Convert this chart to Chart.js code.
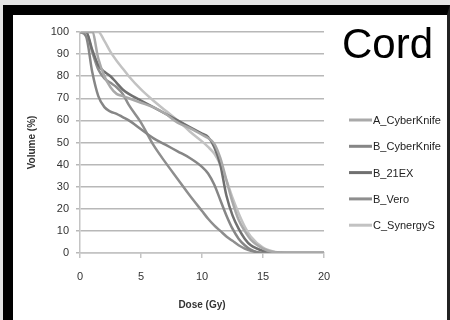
<!DOCTYPE html>
<html>
<head>
<meta charset="utf-8">
<script src="https://cdn.jsdelivr.net/npm/chart.js@4"></script>
<style>
  html, body { margin: 0; padding: 0; }
  body { width: 450px; height: 320px; background: #e4e4e4; position: relative; overflow: hidden; }
  .frame { position: absolute; left: 3px; top: 5px; width: 434px; height: 315px;
           background: #fff; border-left: 10px solid #000; border-top: 10px solid #000; border-right: 3px solid #222; }
  canvas { position: absolute; left: 0; top: 0; }
</style>
</head>
<body>
<div class="frame"></div>
<canvas id="myChart" width="450" height="320"></canvas>
<script>
// dose grid (Gy) shared by every curve
const doses = [0, 0.5, 1, 1.5, 2, 2.5, 3, 3.5, 4, 5, 6, 7, 8, 9, 10, 10.5, 11, 11.5, 12, 12.5, 13, 13.5, 14, 15, 16, 17, 18, 20];

// volume (%) per machine
const aCyberKnife = [100, 100, 100, 88, 80, 75, 72, 71, 70, 68, 66, 63, 59, 56.5, 53.5, 52, 49.5, 43, 33, 23, 15, 10, 6, 2, 0.3, 0, 0, 0];
const bCyberKnife = [100, 98, 82, 71, 66, 64, 63, 61.5, 60, 56, 52, 49, 46, 43, 39, 36, 31, 24, 17, 11, 6.5, 3.5, 1.5, 0, 0, 0, 0, 0];
const b21EX       = [100, 100, 92, 85, 82, 80, 77, 74, 72, 69, 66, 63, 60, 57, 54, 52.5, 48, 40, 26, 17, 11, 6.5, 3.5, 1, 0, 0, 0, 0];
const bVero       = [100, 100, 91, 83, 79, 77, 75, 72, 67, 59, 49, 41, 33.5, 26, 19, 15.5, 12.5, 10, 7.5, 5.5, 3.5, 2, 1, 0, 0, 0, 0, 0];
const cSynergyS   = [100, 100, 100, 100, 96, 91, 87, 83.5, 80, 74, 69, 64.5, 60, 55, 50.5, 48, 45, 40, 33, 25, 18, 12, 7.5, 2.5, 0.5, 0, 0, 0];

const seriesNames = ['A_CyberKnife', 'B_CyberKnife', 'B_21EX', 'B_Vero', 'C_SynergyS'];
const seriesData = [aCyberKnife, bCyberKnife, b21EX, bVero, cSynergyS];
const seriesColors = ['#a9a9a9', '#868686', '#707070', '#8e8e8e', '#c2c2c2'];

const yTicks = [0, 10, 20, 30, 40, 50, 60, 70, 80, 90, 100];
const xTicks = [0, 5, 10, 15, 20];

const tickFont = { family: 'Liberation Sans, Arial, sans-serif', size: 11 };

// title + legend drawn by hand so they sit where the original has them
const extras = {
    id: 'extras',
    afterDraw(chart) {
        const c = chart.ctx;
        c.save();
        c.fillStyle = '#000';
        c.font = '42px Liberation Sans, Arial, sans-serif';
        c.textBaseline = 'alphabetic';
        c.fillText('Cord', 342, 58);

        c.font = '11px Liberation Sans, Arial, sans-serif';
        c.textBaseline = 'middle';
        chart.data.datasets.forEach(function(ds, i){
            const y = 120 + i * 26.3;
            c.strokeStyle = ds.borderColor;
            c.lineWidth = 3;
            c.beginPath();
            c.moveTo(349, y);
            c.lineTo(372, y);
            c.stroke();
            c.fillStyle = '#222';
            c.fillText(ds.label, 373, y + 1);
        });
        c.restore();
    }
};

const ctx = document.getElementById('myChart').getContext('2d');
const myChart = new Chart(ctx, {
    type: 'line',
    data: {
        datasets: seriesNames.map(function(name, i){
            return {
                label: name,
                data: doses.map(function(d, j){ return { x: d, y: seriesData[i][j] }; }),
                borderColor: seriesColors[i],
                backgroundColor: seriesColors[i],
                borderWidth: 2.5,
                pointRadius: 0,
                cubicInterpolationMode: 'monotone',
                tension: 0.4,
            };
        })
    },
    options: {
        responsive: false,
        animation: false,
        layout: { padding: { left: 13, top: 32, right: 126, bottom: 5 } },
        scales: {
            x: {
                type: 'linear',
                min: 0,
                max: 20,
                afterBuildTicks: function(scale){ scale.ticks = xTicks.map(function(v){ return { value: v }; }); },
                afterFit: function(scale){ scale.height = 62; },
                grid: { drawOnChartArea: false, color: '#c4c4c4', lineWidth: 1.5, tickLength: 5 },
                border: { color: '#c4c4c4', width: 1.5 },
                ticks: { font: tickFont, color: '#333', padding: 12, maxRotation: 0 },
                title: { display: true, text: 'Dose (Gy)', font: { family: 'Liberation Sans, Arial, sans-serif', size: 10, weight: 'bold' }, color: '#333', padding: { top: 0, bottom: 4 } }
            },
            y: {
                min: 0,
                max: 100,
                afterBuildTicks: function(scale){ scale.ticks = yTicks.map(function(v){ return { value: v }; }); },
                afterFit: function(scale){ scale.width = 67; },
                grid: { color: '#b8b8b8', lineWidth: 1.5, tickLength: 4 },
                border: { color: '#c4c4c4', width: 1.5 },
                ticks: { font: tickFont, color: '#333', padding: 7 },
                title: { display: true, text: 'Volume (%)', font: { family: 'Liberation Sans, Arial, sans-serif', size: 10, weight: 'bold' }, color: '#333', padding: { top: 13, bottom: 0 } }
            }
        },
        plugins: {
            legend: { display: false },
            tooltip: { enabled: false }
        }
    },
    plugins: [extras]
});
</script>
</body>
</html>
